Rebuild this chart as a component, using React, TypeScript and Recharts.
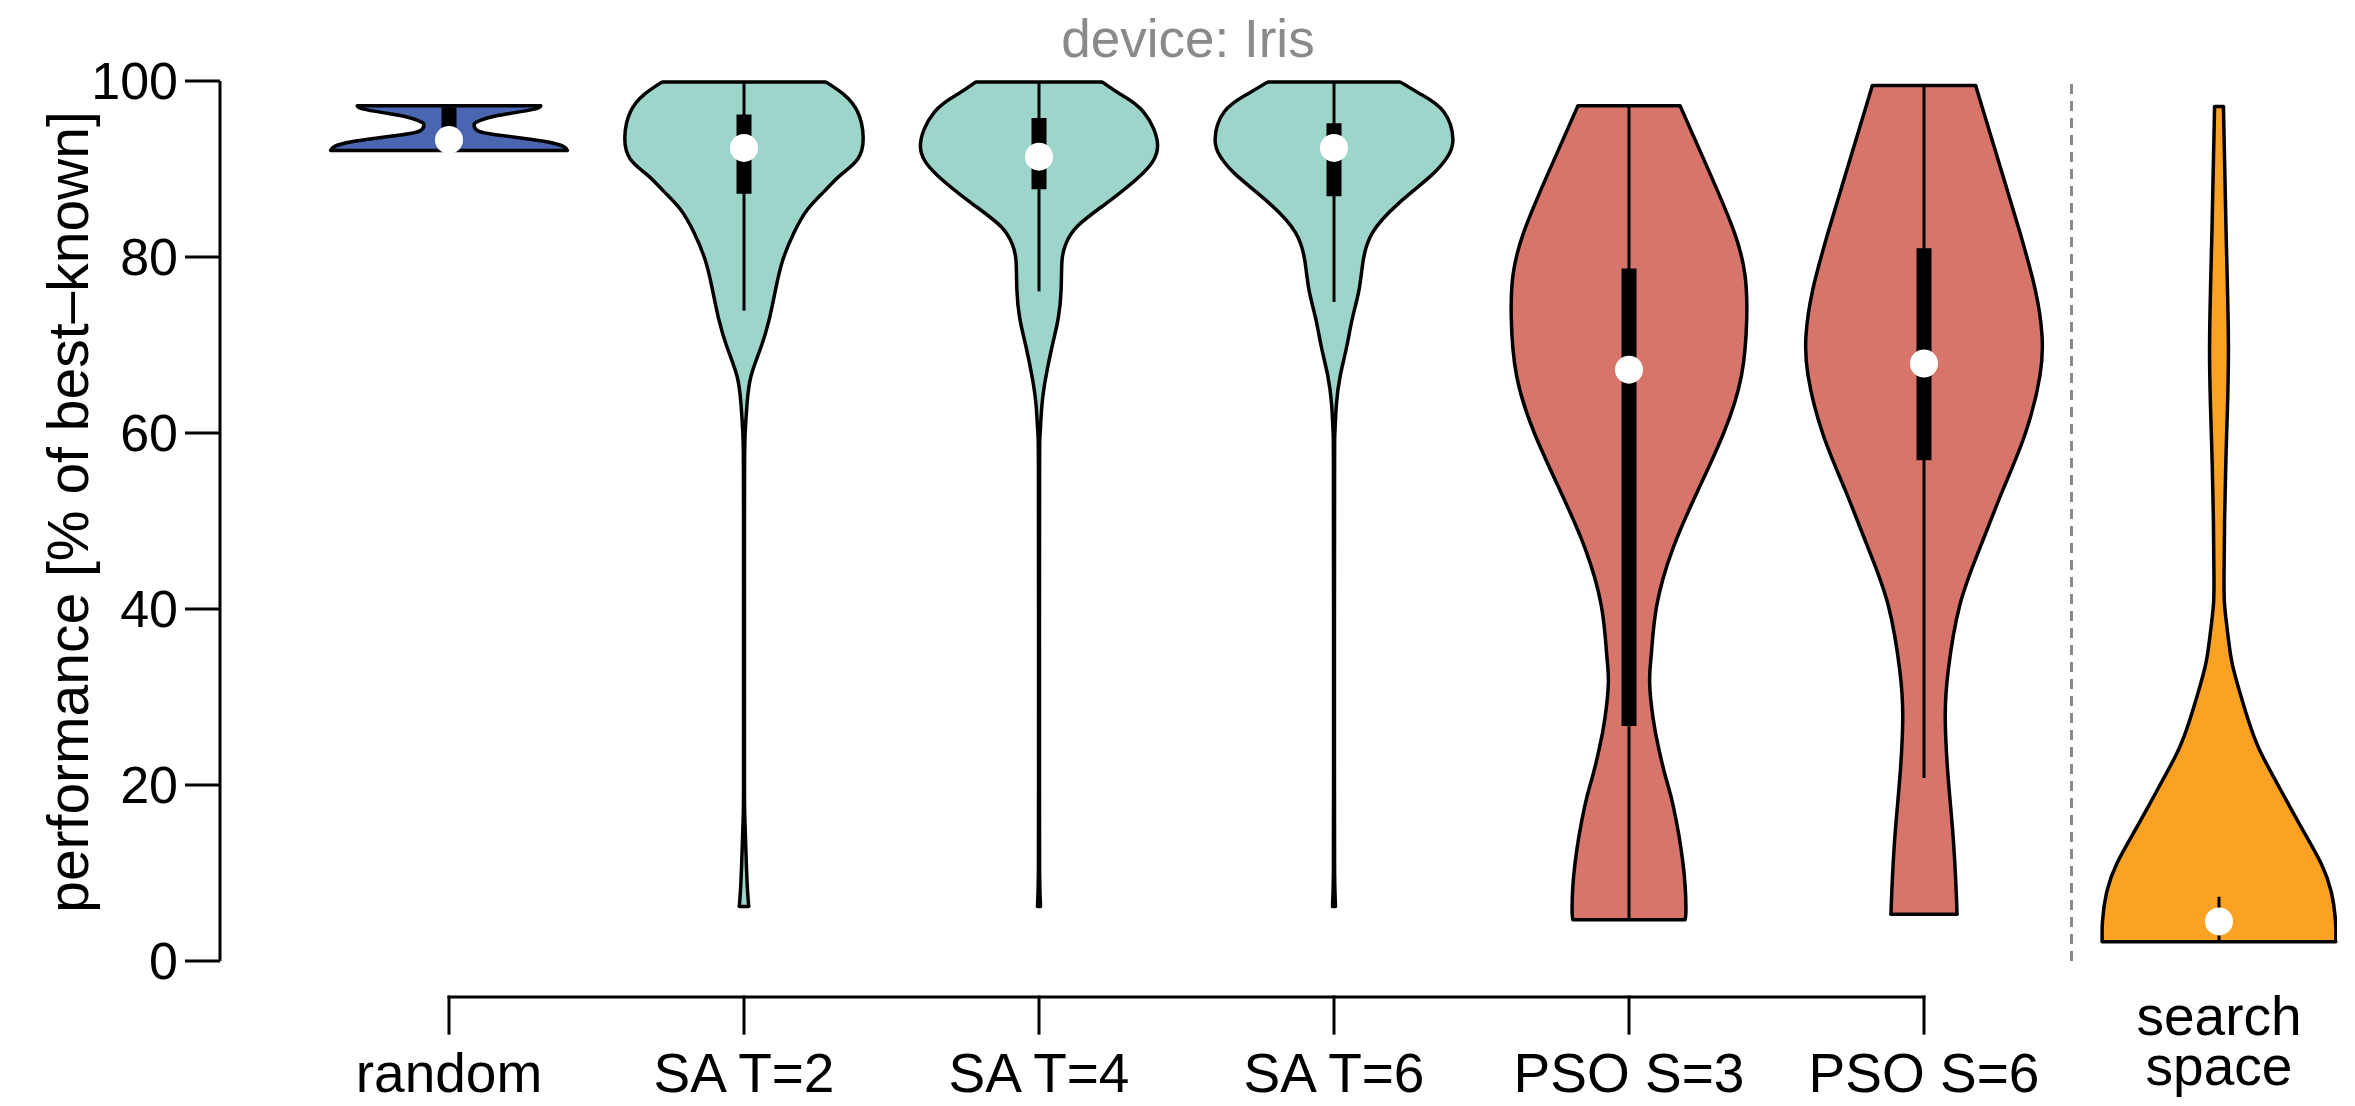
import React from 'react';
import { ComposedChart, Area, XAxis, YAxis, ReferenceLine, ReferenceDot } from 'recharts';

// ---------- data ----------
const categoryLabels = ['random', 'SA T=2', 'SA T=4', 'SA T=6', 'PSO S=3', 'PSO S=6', 'search\nspace'];
const positions = [0, 1, 2, 3, 4, 5, 6];
const yTicks = [0, 20, 40, 60, 80, 100];
const separatorPos = 5.5;
const bracketStart = 0;
const bracketEnd = 5;
const bracketLevel = -4.1;
const bracketTickEnd = -8.2;

// violin outlines: performance level -> half width (in category units)
const randomLevels = [92.1, 92.6, 93.1, 93.5, 93.9, 94.3, 94.9, 95.3, 95.8, 96.3, 96.8, 97.2];
const randomWidths = [0.401, 0.386, 0.33, 0.249, 0.158, 0.1, 0.085, 0.092, 0.13, 0.205, 0.29, 0.311];

const sa2Levels = [6.2, 8, 11, 16, 20, 30, 40, 50, 56.7, 60, 63.2, 66.5, 69.8, 73.0, 76.3, 79.6, 82.8, 85.4, 87.4, 89.3, 91.1, 93.6, 96.5, 98.5, 99.9];
const sa2Widths = [0.016, 0.012, 0.008, 0.003, 0.0015, 0.0015, 0.0015, 0.0015, 0.002, 0.004, 0.01, 0.024, 0.058, 0.086, 0.107, 0.131, 0.17, 0.215, 0.27, 0.327, 0.385, 0.404, 0.385, 0.337, 0.277];

const sa4Levels = [6.2, 10, 20, 40, 56.7, 60, 63.2, 66.5, 69.8, 73.0, 76.3, 79.6, 81.5, 83.5, 86.1, 89.3, 92.6, 96.5, 98.5, 99.9];
const sa4Widths = [0.005, 0.002, 0.0015, 0.0015, 0.002, 0.004, 0.01, 0.024, 0.044, 0.065, 0.075, 0.078, 0.091, 0.13, 0.228, 0.345, 0.402, 0.354, 0.276, 0.214];

const sa6Levels = [6.2, 10, 20, 40, 56.7, 60, 63.2, 66.5, 69.8, 73.0, 76.3, 79.6, 82.8, 86.1, 89.3, 91.4, 93.4, 96.5, 98.5, 99.9];
const sa6Widths = [0.005, 0.002, 0.0015, 0.0015, 0.002, 0.003, 0.008, 0.021, 0.043, 0.062, 0.085, 0.099, 0.131, 0.219, 0.331, 0.385, 0.403, 0.372, 0.294, 0.224];

const pso3Levels = [4.7, 6, 11.1, 17.6, 20.8, 24.1, 27.5, 31.6, 35, 40.4, 46.9, 53.5, 60, 66.5, 73.0, 78, 82.8, 89.3, 97.2];
const pso3Widths = [0.19, 0.193, 0.183, 0.15, 0.125, 0.101, 0.082, 0.07, 0.076, 0.094, 0.149, 0.234, 0.321, 0.381, 0.399, 0.393, 0.357, 0.277, 0.173];

const pso6Levels = [5.3, 8, 14, 20.8, 27.5, 33, 40.4, 46.9, 53.5, 60, 66.5, 71.1, 76.3, 82.8, 89.3, 99.5];
const pso6Widths = [0.112, 0.109, 0.099, 0.082, 0.072, 0.082, 0.121, 0.189, 0.267, 0.344, 0.393, 0.4, 0.377, 0.325, 0.267, 0.175];

const spaceLevels = [2.2, 4.5, 7.8, 11.1, 14.3, 17.6, 20.8, 24.1, 27.3, 30.6, 33.9, 37.1, 40.4, 43.6, 50.2, 60, 69.8, 82.8, 97.1];
const spaceWidths = [0.396, 0.395, 0.381, 0.346, 0.294, 0.239, 0.187, 0.136, 0.1, 0.07, 0.044, 0.03, 0.019, 0.017, 0.019, 0.026, 0.032, 0.024, 0.015];

// box statistics
const whiskerLow = [92.1, 73.9, 76.1, 74.9, 4.7, 20.8, 2.2];
const quartile1 = [92.5, 87.2, 87.7, 86.9, 26.7, 56.9, 3.4];
const medians = [93.3, 92.4, 91.4, 92.4, 67.2, 67.9, 4.5];
const quartile3 = [97.0, 96.2, 95.8, 95.2, 78.7, 81.0, 5.6];
const whiskerHigh = [97.2, 99.9, 99.9, 99.9, 97.2, 99.5, 7.3];

const fills = ['#4a66b0', '#9ed5cb', '#9ed5cb', '#9ed5cb', '#d8756a', '#d8756a', '#fba123'];

// ---------- table for the library ----------
const violinLevels = [randomLevels, sa2Levels, sa4Levels, sa6Levels, pso3Levels, pso6Levels, spaceLevels];
const violinWidths = [randomWidths, sa2Widths, sa4Widths, sa6Widths, pso3Widths, pso6Widths, spaceWidths];

const allLevels = Array.from(new Set(violinLevels.flat())).sort((a, b) => a - b);
const tableData = allLevels.map((y) => {
  const row: Record<string, any> = { y };
  violinLevels.forEach((lv, i) => {
    const k = lv.indexOf(y);
    row['v' + i] = k >= 0 ? [positions[i] - violinWidths[i][k], positions[i] + violinWidths[i][k]] : [null, null];
  });
  return row;
});

const xDomain: [number, number] = [-229 / 295, 6.4];

const FONT = '"Liberation Sans", Arial, Helvetica, sans-serif';
const STROKE = 3.5;

const CategoryTick = (props: any) => {
  const { x, y, payload } = props;
  const idx = positions.indexOf(payload.value);
  if (idx < 0) return null;
  const lines = categoryLabels[idx].split('\n');
  const firstBase = lines.length > 1 ? 74 : 131;
  return (
    <text x={x} y={y + firstBase} textAnchor="middle" fontSize={55} fill="#000" fontFamily={FONT}>
      {lines.map((ln, j) => (
        <tspan key={j} x={x} dy={j === 0 ? 0 : 50}>
          {ln}
        </tspan>
      ))}
    </text>
  );
};

const YLabel = (props: any) => {
  const vb = props.viewBox || { x: 0, y: 73, width: 212, height: 880 };
  const cx = vb.x + 80;
  const cy = vb.y + vb.height / 2 - 9;
  return (
    <text x={cx} y={cy} transform={`rotate(-90, ${cx}, ${cy})`} textAnchor="middle" fontSize={57} fill="#000" fontFamily={FONT}>
      performance [% of best–known]
    </text>
  );
};

export default function App() {
  return (
    <div style={{ position: 'relative', width: 2339, height: 1098, fontFamily: FONT }}>
      <div
        style={{
          position: 'absolute',
          top: 4,
          left: 580,
          width: 1200,
          textAlign: 'center',
          fontSize: 53,
          lineHeight: '53px',
          color: '#8a8a8a',
          fontFamily: FONT,
        }}
      >
        device: Iris
      </div>
      <ComposedChart
        width={2339}
        height={1098}
        data={tableData}
        layout="vertical"
        margin={{ top: 73, right: 10, bottom: 8, left: 0 }}
      >
        <XAxis
          type="number"
          domain={xDomain}
          allowDataOverflow
          ticks={positions}
          interval={0}
          tickLine={false}
          axisLine={false}
          tickSize={0}
          tickMargin={0}
          height={137}
          tick={<CategoryTick />}
        />
        <YAxis
          type="number"
          dataKey="y"
          domain={[0, 100]}
          allowDataOverflow
          reversed
          ticks={yTicks}
          interval={0}
          width={212}
          tickSize={35}
          tickMargin={7}
          axisLine={{ stroke: '#000', strokeWidth: 3 }}
          tickLine={{ stroke: '#000', strokeWidth: 3 }}
          tick={{ fontSize: 52, fill: '#000', fontFamily: FONT }}
          label={<YLabel />}
        />
        {positions.map((p, i) => (
          <Area
            key={'area' + i}
            dataKey={'v' + i}
            type="natural"
            fill={fills[i]}
            fillOpacity={1}
            stroke="#000"
            strokeWidth={STROKE}
            strokeLinejoin="round"
            connectNulls
            dot={false}
            activeDot={false}
            isAnimationActive={false}
          />
        ))}
        {positions.map((p, i) => {
          const lv = violinLevels[i];
          const wd = violinWidths[i];
          const n = lv.length - 1;
          return (
            <React.Fragment key={'cap' + i}>
              <ReferenceLine
                segment={[{ x: p - wd[0], y: lv[0] }, { x: p + wd[0], y: lv[0] }]}
                stroke="#000"
                strokeWidth={STROKE}
                strokeLinecap="round"
                ifOverflow="visible"
              />
              <ReferenceLine
                segment={[{ x: p - wd[n], y: lv[n] }, { x: p + wd[n], y: lv[n] }]}
                stroke="#000"
                strokeWidth={STROKE}
                strokeLinecap="round"
                ifOverflow="visible"
              />
            </React.Fragment>
          );
        })}
        <ReferenceLine x={separatorPos} stroke="#8a8a8a" strokeWidth={3} strokeDasharray="10 7" ifOverflow="visible" />
        <ReferenceLine
          segment={[{ x: bracketStart, y: bracketLevel }, { x: bracketEnd, y: bracketLevel }]}
          stroke="#000"
          strokeWidth={3}
          strokeLinecap="square"
          ifOverflow="visible"
        />
        {positions
          .filter((p) => p <= bracketEnd)
          .map((p) => (
            <ReferenceLine
              key={'bt' + p}
              segment={[{ x: p, y: bracketLevel }, { x: p, y: bracketTickEnd }]}
              stroke="#000"
              strokeWidth={3}
              strokeLinecap="square"
              ifOverflow="visible"
            />
          ))}
        {positions.map((p, i) => (
          <ReferenceLine
            key={'wh' + i}
            segment={[{ x: p, y: whiskerLow[i] }, { x: p, y: whiskerHigh[i] }]}
            stroke="#000"
            strokeWidth={3}
            ifOverflow="visible"
          />
        ))}
        {positions.map((p, i) => (
          <ReferenceLine
            key={'iqr' + i}
            segment={[{ x: p, y: quartile1[i] }, { x: p, y: quartile3[i] }]}
            stroke="#000"
            strokeWidth={15}
            strokeLinecap="butt"
            ifOverflow="visible"
          />
        ))}
        {positions.map((p, i) => (
          <ReferenceDot key={'med' + i} x={p} y={medians[i]} r={14} fill="#ffffff" stroke="none" ifOverflow="visible" />
        ))}
      </ComposedChart>
    </div>
  );
}
